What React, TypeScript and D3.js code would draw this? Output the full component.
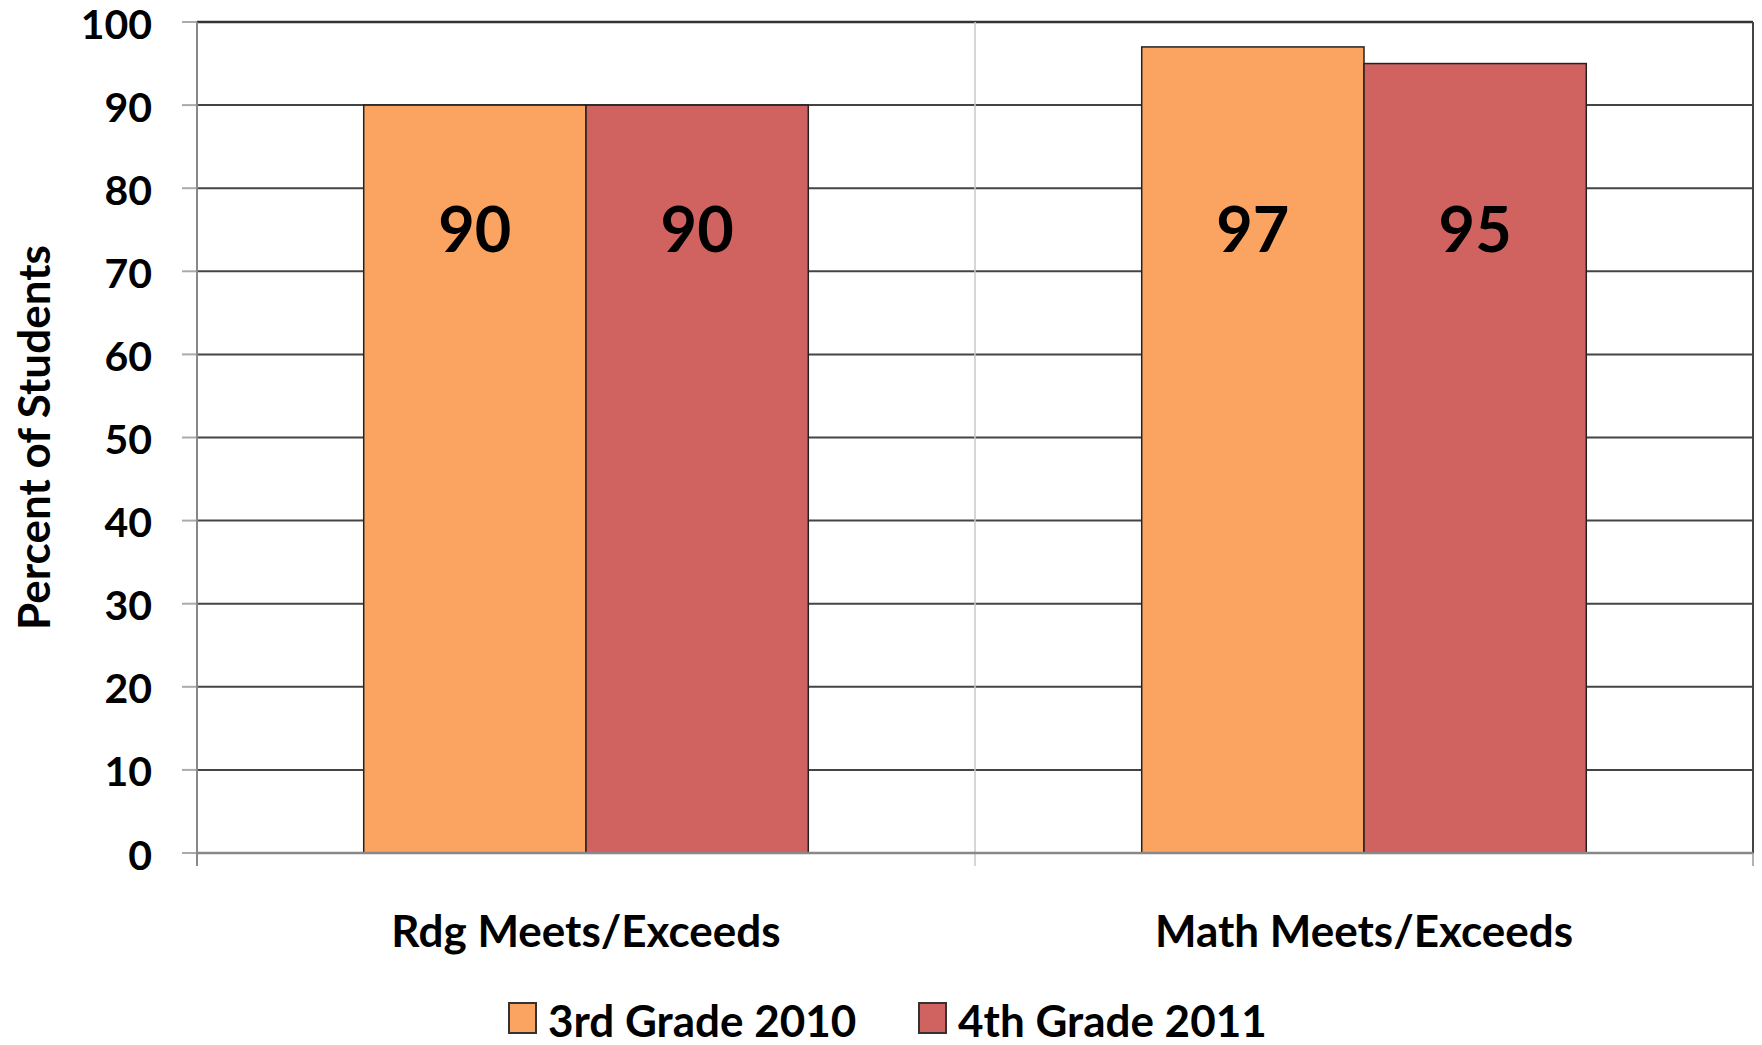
import * as d3 from "d3";

const categories = ["Rdg Meets/Exceeds", "Math Meets/Exceeds"];
const seriesNames = ["3rd Grade 2010", "4th Grade 2011"];
const grade3Values = [90, 97];
const grade4Values = [90, 95];
const yTicks = [0, 10, 20, 30, 40, 50, 60, 70, 80, 90, 100];
const colors = ["#FBA461", "#D06360"];

const W = 1762;
const H = 1045;
const margin = { top: 22, right: 9, bottom: 192, left: 197 };
const FONT = "Lato, 'Open Sans', sans-serif";

export default function App() {
  const innerLeft = margin.left;
  const innerRight = W - margin.right;
  const innerTop = margin.top;
  const innerBottom = H - margin.bottom;

  const y = d3.scaleLinear().domain([0, 100]).range([innerBottom, innerTop]);
  const x0 = d3.scaleBand().domain(categories).range([innerLeft, innerRight]).padding(0);
  const x1 = d3
    .scaleBand()
    .domain(seriesNames)
    .range([0, x0.bandwidth()])
    .paddingInner(0)
    .paddingOuter(0.75);

  const values = [grade3Values, grade4Values];
  const bars = categories.flatMap((c, ci) =>
    seriesNames.map((s, si) => ({ cat: c, series: s, value: values[si][ci], color: colors[si] }))
  );

  const mid = x0(categories[1]) || 0;

  return (
    <svg width={W} height={H} style={{ position: "absolute", left: 0, top: 0, background: "#fff" }}>
      {/* horizontal gridlines */}
      {yTicks.map((t) => (
        <g key={t}>
          <line x1={innerLeft - 15} x2={innerLeft} y1={y(t)} y2={y(t)} stroke="#aaa" strokeWidth={2} />
          {t > 0 && (
            <line
              x1={innerLeft}
              x2={innerRight}
              y1={y(t)}
              y2={y(t)}
              stroke={t === 100 ? "#333" : "#444"}
              strokeWidth={t === 100 ? 2.5 : 2}
            />
          )}
          <text
            x={152}
            y={y(t) + 1}
            textAnchor="end"
            dominantBaseline="central"
            fontFamily={FONT}
            fontWeight={700}
            fontSize={41}
            fill="#000"
          >
            {t}
          </text>
        </g>
      ))}

      {/* category divider */}
      <line x1={mid} x2={mid} y1={innerTop} y2={innerBottom + 13} stroke="#c8c8c8" strokeWidth={1.5} />
      {/* left axis */}
      <line x1={innerLeft} x2={innerLeft} y1={innerTop} y2={innerBottom + 13} stroke="#888" strokeWidth={2} />
      {/* right border */}
      <line x1={innerRight} x2={innerRight} y1={innerTop} y2={innerBottom} stroke="#444" strokeWidth={2} />
      <line x1={innerRight} x2={innerRight} y1={innerBottom} y2={innerBottom + 13} stroke="#999" strokeWidth={1.5} />

      {/* bars */}
      {bars.map((b) => (
        <rect
          key={b.cat + b.series}
          x={(x0(b.cat) || 0) + (x1(b.series) || 0)}
          y={y(b.value)}
          width={x1.bandwidth()}
          height={y(0) - y(b.value)}
          fill={b.color}
          stroke="#222"
          strokeWidth={1.5}
        />
      ))}

      {/* bottom axis */}
      <line x1={innerLeft} x2={innerRight} y1={innerBottom} y2={innerBottom} stroke="#888" strokeWidth={2.5} />

      {/* data labels */}
      {bars.map((b) => (
        <text
          key={"l" + b.cat + b.series}
          x={(x0(b.cat) || 0) + (x1(b.series) || 0) + x1.bandwidth() / 2}
          y={y(75.3)}
          textAnchor="middle"
          dominantBaseline="central"
          fontFamily={FONT}
          fontWeight={700}
          fontSize={63}
          fill="#000"
        >
          {b.value}
        </text>
      ))}

      {/* category labels */}
      {categories.map((c) => (
        <text
          key={c}
          x={(x0(c) || 0) + x0.bandwidth() / 2}
          y={930}
          textAnchor="middle"
          dominantBaseline="central"
          fontFamily={FONT}
          fontWeight={700}
          fontSize={44}
          fill="#000"
        >
          {c}
        </text>
      ))}

      {/* y axis title */}
      <text
        transform={`translate(33, ${(innerTop + innerBottom) / 2}) rotate(-90)`}
        textAnchor="middle"
        dominantBaseline="central"
        fontFamily={FONT}
        fontWeight={700}
        fontSize={44}
        fill="#000"
      >
        Percent of Students
      </text>

      {/* legend */}
      {seriesNames.map((s, i) => {
        const lx = i === 0 ? 509 : 919;
        return (
          <g key={s}>
            <rect x={lx} y={1003} width={27} height={30} fill={colors[i]} stroke="#333" strokeWidth={2} />
            <text
              x={lx + 39}
              y={1020}
              dominantBaseline="central"
              fontFamily={FONT}
              fontWeight={700}
              fontSize={44}
              fill="#000"
            >
              {s}
            </text>
          </g>
        );
      })}
    </svg>
  );
}
